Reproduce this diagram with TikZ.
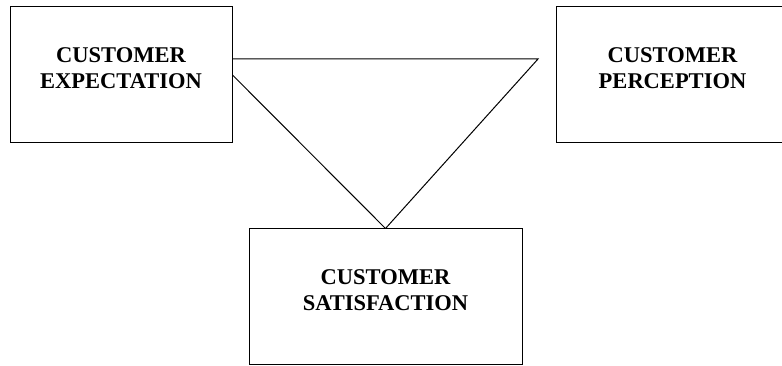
\documentclass[tikz,border=0pt]{standalone}
\usepackage{fontspec}
\setmainfont{Liberation Serif}
\usetikzlibrary{positioning, calc}

\begin{document}
\begin{tikzpicture}[
    x=1pt, y=1pt,
    box/.style={rectangle, draw, line width=1pt, inner sep=0pt,
                minimum height=136pt, align=center, text depth=14pt,
                font=\fontsize{22.5}{26}\selectfont\bfseries},
    edge/.style={line width=1pt}
]
\useasboundingbox (0,0) rectangle (782,366);
\clip (0,0) rectangle (782,366);

% ---- the three boxes ----
\node[box, minimum width=222pt] (expect)  at (121,291)   {CUSTOMER\\EXPECTATION};
\node[box, minimum width=233pt] (percept) at (672.5,291) {CUSTOMER\\PERCEPTION};
\node[box, minimum width=273pt] (satisf)  at (385.5,69)  {CUSTOMER\\SATISFACTION};

% ---- triangle between them ----
\coordinate (tip) at (538,307);
\draw[edge] (expect.east |- tip) -- (tip) -- (satisf.north);
\draw[edge] (expect.east) -- (satisf.north);

\end{tikzpicture}
\end{document}
